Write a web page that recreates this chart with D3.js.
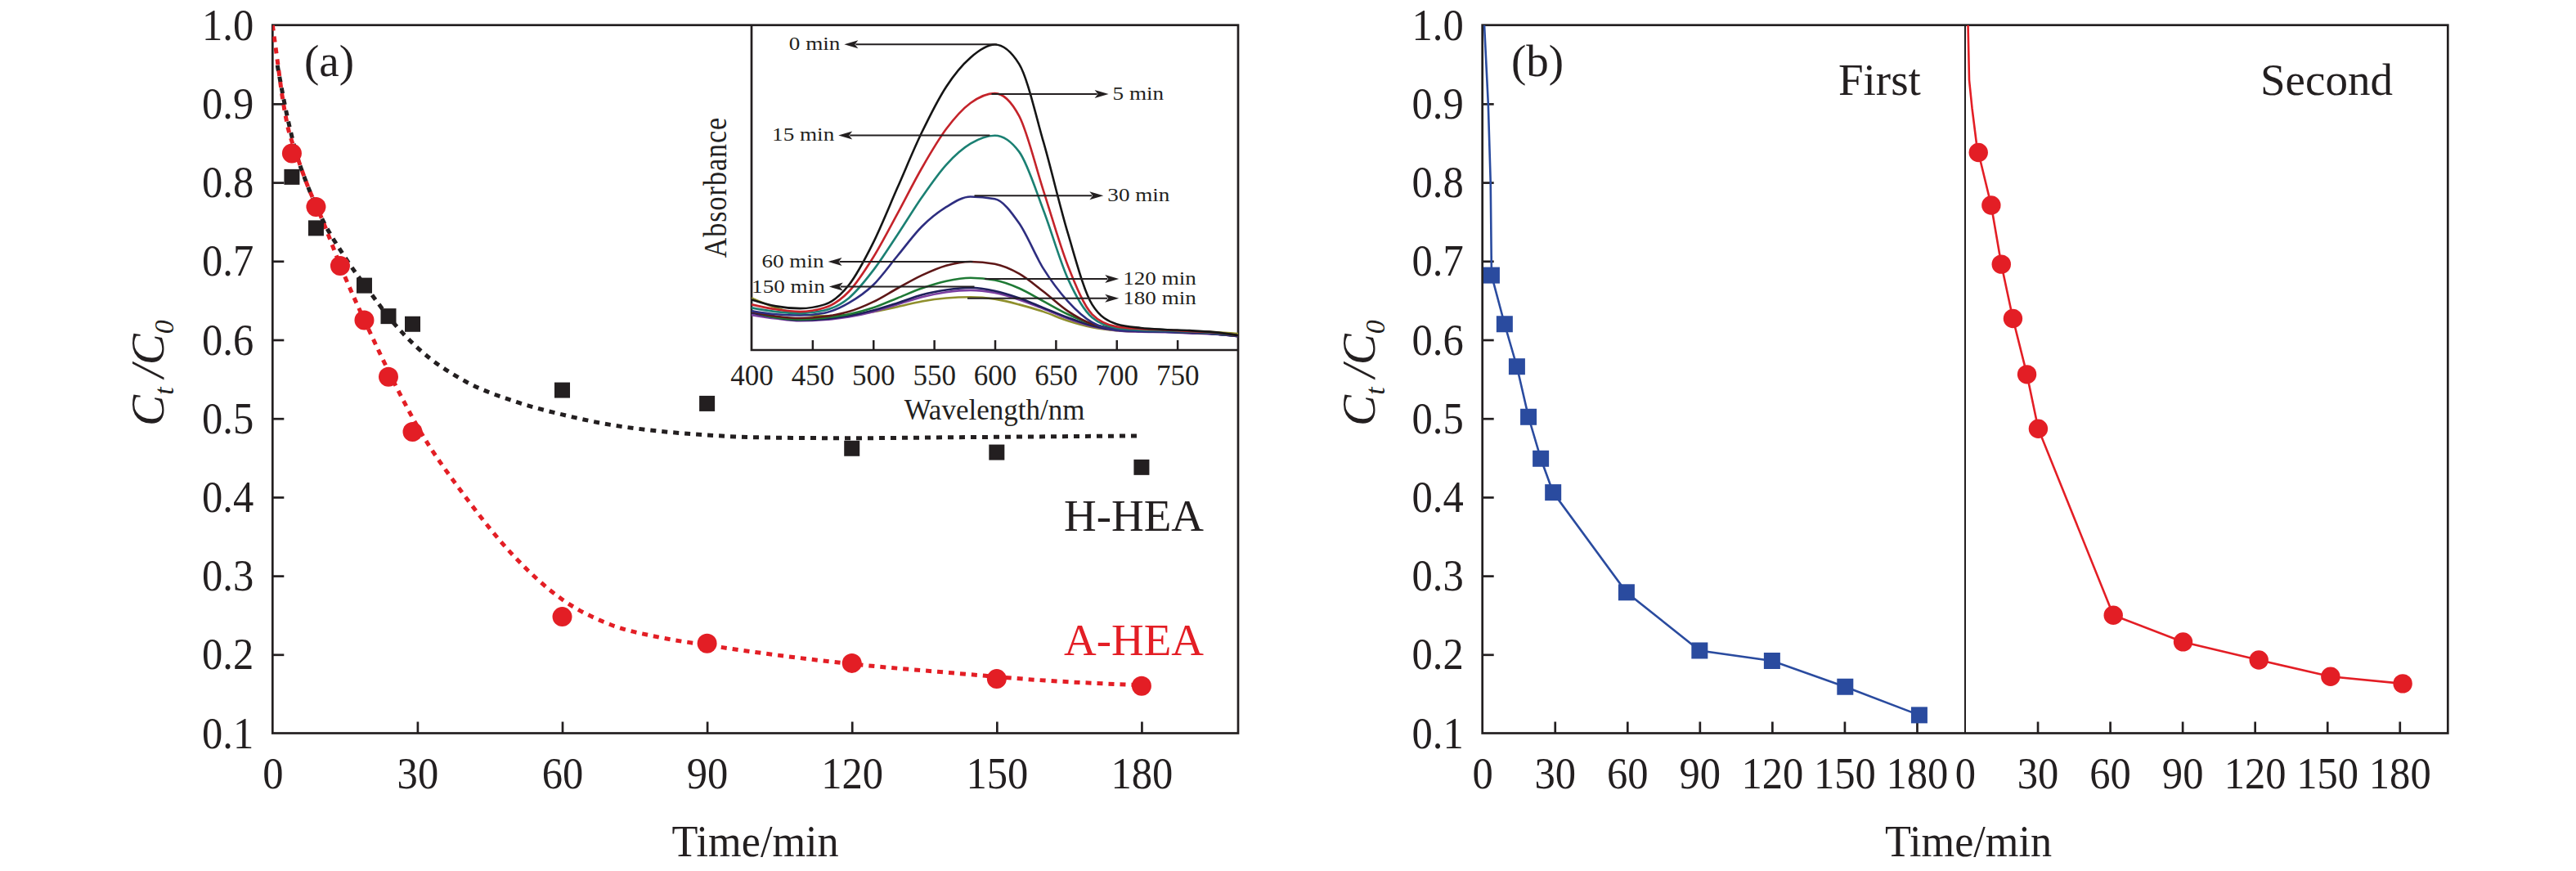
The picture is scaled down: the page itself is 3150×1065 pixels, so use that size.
<!DOCTYPE html>
<html><head><meta charset="utf-8">
<script src="https://cdn.jsdelivr.net/npm/d3@7/dist/d3.min.js"></script>
<style>
body{margin:0;background:#fff}
svg{display:block}
text{font-family:"Liberation Serif","Times New Roman",serif;fill:#231f20}
</style>
</head><body>
<svg id="c" width="3150" height="1065"></svg>
<script>
// ---------------- DATA ----------------
// Panel (a): photocatalytic degradation, C_t/C_0 vs time (min)
const timesHHEA  = [4, 9, 19, 24, 29, 60, 90, 120, 150, 180];
const valuesHHEA = [0.807, 0.742, 0.669, 0.630, 0.620, 0.536, 0.519, 0.462, 0.457, 0.438];
const timesAHEA  = [4, 9, 14, 19, 24, 29, 60, 90, 120, 150, 180];
const valuesAHEA = [0.837, 0.769, 0.694, 0.625, 0.553, 0.483, 0.248, 0.214, 0.189, 0.169, 0.160];
// fitted (dotted) curves
const fitTimesH  = [1, 3, 5, 7, 10, 15, 20, 25, 30, 40, 50, 60, 70, 80, 90, 100, 120, 140, 160, 180];
const fitValuesH = [0.949, 0.885, 0.835, 0.800, 0.757, 0.705, 0.662, 0.622, 0.590, 0.547, 0.522, 0.505, 0.492, 0.484, 0.479, 0.476, 0.475, 0.476, 0.477, 0.478];
const fitTimesA  = [0, 1, 2, 3, 5, 7, 10, 15, 20, 25, 30, 40, 50, 60, 70, 80, 90, 100, 120, 140, 160, 180];
const fitValuesA = [1.0, 0.955, 0.91, 0.875, 0.835, 0.80, 0.757, 0.68, 0.612, 0.548, 0.49, 0.40, 0.325, 0.27, 0.238, 0.222, 0.212, 0.203, 0.188, 0.177, 0.167, 0.161];
const seriesLabels = ["H-HEA", "A-HEA"];

// Panel (b): cycling test
const leadTimesFirst  = [0.8, 2.4, 3.4];
const leadValuesFirst = [1.0, 0.9, 0.8];
const timesFirst  = [3.8, 9.2, 14.3, 19.1, 24.2, 29.3, 59.7, 90, 120, 150.3, 181];
const valuesFirst = [0.682, 0.620, 0.566, 0.502, 0.449, 0.406, 0.279, 0.205, 0.192, 0.159, 0.123];
const leadTimesSecond  = [1.2, 1.7, 2.9, 4.7];
const leadValuesSecond = [1.0, 0.93, 0.894, 0.85];
const timesSecond  = [5.5, 10.8, 15, 19.8, 25.6, 30.3, 61.4, 90.3, 121.7, 151.4, 181.3];
const valuesSecond = [0.838, 0.771, 0.696, 0.627, 0.556, 0.487, 0.250, 0.216, 0.193, 0.172, 0.163];
const runLabels = ["First", "Second"];

// Axis ticks
const timeTicks = [0, 30, 60, 90, 120, 150, 180];
const ratioTicks = [0.1, 0.2, 0.3, 0.4, 0.5, 0.6, 0.7, 0.8, 0.9, 1.0];
const wlTicks = [400, 450, 500, 550, 600, 650, 700, 750];

// Inset: UV-vis absorbance spectra (relative absorbance)
const wavelengths = [400, 420, 440, 460, 480, 500, 520, 540, 560, 580, 600, 620, 640, 660, 680, 700, 720, 740, 760, 780, 800];
const spec0   = [0.155, 0.135, 0.128, 0.140, 0.200, 0.330, 0.500, 0.670, 0.810, 0.900, 0.940, 0.880, 0.640, 0.360, 0.140, 0.080, 0.068, 0.063, 0.060, 0.055, 0.045];
const spec5   = [0.140, 0.125, 0.118, 0.130, 0.180, 0.285, 0.420, 0.560, 0.680, 0.760, 0.790, 0.720, 0.490, 0.260, 0.110, 0.072, 0.065, 0.062, 0.058, 0.054, 0.045];
const spec15  = [0.130, 0.118, 0.113, 0.122, 0.160, 0.245, 0.355, 0.470, 0.570, 0.635, 0.660, 0.610, 0.430, 0.220, 0.100, 0.068, 0.062, 0.060, 0.057, 0.053, 0.045];
const spec30  = [0.120, 0.110, 0.107, 0.114, 0.145, 0.200, 0.290, 0.380, 0.440, 0.472, 0.465, 0.390, 0.250, 0.150, 0.085, 0.062, 0.058, 0.056, 0.054, 0.050, 0.043];
const spec60  = [0.118, 0.104, 0.098, 0.103, 0.118, 0.148, 0.190, 0.230, 0.260, 0.272, 0.265, 0.235, 0.180, 0.120, 0.080, 0.065, 0.060, 0.057, 0.054, 0.050, 0.043];
const spec90  = [0.108, 0.097, 0.090, 0.093, 0.102, 0.118, 0.140, 0.163, 0.178, 0.184, 0.176, 0.155, 0.127, 0.097, 0.073, 0.060, 0.056, 0.055, 0.052, 0.049, 0.042];
const spec120 = [0.120, 0.100, 0.094, 0.099, 0.110, 0.130, 0.160, 0.190, 0.212, 0.222, 0.215, 0.190, 0.150, 0.110, 0.080, 0.065, 0.060, 0.057, 0.054, 0.050, 0.043];
const spec150 = [0.115, 0.100, 0.092, 0.095, 0.105, 0.122, 0.145, 0.170, 0.185, 0.192, 0.182, 0.160, 0.130, 0.100, 0.075, 0.062, 0.058, 0.056, 0.053, 0.050, 0.042];
const spec180 = [0.160, 0.130, 0.110, 0.105, 0.108, 0.118, 0.133, 0.150, 0.160, 0.163, 0.157, 0.140, 0.118, 0.090, 0.070, 0.060, 0.057, 0.060, 0.057, 0.055, 0.050];
const spectra = [spec180, spec90, spec150, spec120, spec60, spec30, spec15, spec5, spec0];
const spectraColors = ["#8f8f2c", "#7b3fa0", "#1f1f5c", "#1f7a35", "#5e1717", "#2e2e80", "#1b8073", "#c4232a", "#151515"];

// Inset annotations (arrow from peak to label)
const annLabels = ["0 min", "5 min", "15 min", "30 min", "60 min", "120 min", "150 min", "180 min"];
const annFromNm = [601.6, 597.3, 595.9, 583.2, 581.8, 591.7, 583.2, 577.5];
const annToNm   = [476.2, 693.5, 471.4, 689.3, 462.9, 702.0, 463.7, 702.0];
const annAbs    = [0.941, 0.788, 0.661, 0.475, 0.272, 0.219, 0.195, 0.159];

// ---------------- DRAWING ----------------
const INK = "#231f20", RED = "#e31e25", BLUE = "#2a4b9f";
const svg = d3.select("#c");
const yTop = 30.7, yBot = 896.5;
const y = d3.scaleLinear().domain([0.1, 1.0]).range([yBot, yTop]);
const xa = d3.scaleLinear().domain([0, 200]).range([333.3, 1514]);
const xb1 = d3.scaleLinear().domain([0, 200]).range([1812.7, 2403]);
const xb2 = d3.scaleLinear().domain([0, 200]).range([2403, 2993.3]);
const xi = d3.scaleLinear().domain([400, 800]).range([919, 1514]);
const yi = d3.scaleLinear().domain([0, 1]).range([428, 30.7]);

const defs = svg.append("defs");
defs.append("clipPath").attr("id", "clipA").append("rect")
  .attr("x", xa(0)).attr("y", yTop).attr("width", xa(200) - xa(0)).attr("height", yBot - yTop);
defs.append("clipPath").attr("id", "clipI").append("rect")
  .attr("x", xi(400)).attr("y", yi(1)).attr("width", xi(800) - xi(400)).attr("height", yi(0) - yi(1));
defs.append("clipPath").attr("id", "clipB1").append("rect")
  .attr("x", xb1(0)).attr("y", yTop).attr("width", xb1(200) - xb1(0)).attr("height", yBot - yTop);
defs.append("clipPath").attr("id", "clipB2").append("rect")
  .attr("x", xb2(0)).attr("y", yTop).attr("width", xb2(200) - xb2(0)).attr("height", yBot - yTop);

function xAxis(scale, fs) {
  const g = svg.append("g").attr("transform", `translate(0,${yBot})`)
    .call(d3.axisBottom(scale).tickValues(timeTicks).tickSize(-14).tickPadding(28).tickFormat(d3.format("d")));
  g.attr("font-family", null).attr("font-size", null);
  g.select(".domain").remove();
  g.selectAll(".tick").filter(d => d === 0).select("line").remove();
  g.selectAll("line").attr("stroke", INK).attr("stroke-width", 2.7);
  g.selectAll("text").attr("fill", INK).style("font-size", fs + "px").attr("transform", "scale(0.92,1)");
}
function yAxis(x0) {
  const g = svg.append("g").attr("transform", `translate(${x0},0)`)
    .call(d3.axisLeft(y).tickValues(ratioTicks).tickSize(-14).tickPadding(23).tickFormat(d3.format(".1f")));
  g.attr("font-family", null).attr("font-size", null);
  g.select(".domain").remove();
  g.selectAll(".tick").filter(d => d < 0.15 || d > 0.95).select("line").remove();
  g.selectAll("line").attr("stroke", INK).attr("stroke-width", 2.7);
  g.selectAll("text").attr("fill", INK).style("font-size", "55px")
    .attr("x", -23 / 0.92).attr("transform", "scale(0.92,1)");
}
function yLabel(cx, cy) {
  const t = svg.append("text").attr("transform", `translate(${cx},${cy}) rotate(-90)`)
    .attr("text-anchor", "middle").style("font-size", "57px").style("font-style", "italic");
  t.append("tspan").text("C");
  t.append("tspan").text("t").attr("dy", 12).style("font-size", "34px");
  t.append("tspan").text("\u2009/").attr("dy", -12);
  t.append("tspan").text("C");
  t.append("tspan").text("0").attr("dy", 12).style("font-size", "34px");
}
function xLabel(cx) {
  svg.append("text").attr("transform", `translate(${cx},1047) scale(0.95,1)`)
    .attr("text-anchor", "middle").style("font-size", "55px").text("Time/min");
}

// ---- Panel (a) ----
svg.append("rect").attr("x", xa(0)).attr("y", yTop).attr("width", xa(200) - xa(0)).attr("height", yBot - yTop)
  .attr("fill", "none").attr("stroke", INK).attr("stroke-width", 2.7);
xAxis(xa, 55);
yAxis(xa(0));
yLabel(200, 456);
xLabel(923.6);
svg.append("text").attr("x", 372).attr("y", 93).style("font-size", "55px").text("(a)");

// inset
const ins = svg.append("g");
ins.append("path").attr("d", `M${xi(400)},${yi(1)}V${yi(0)}H${xi(800)}`)
  .attr("fill", "none").attr("stroke", INK).attr("stroke-width", 2.7);
const ixg = ins.append("g").attr("transform", `translate(0,${yi(0)})`)
  .call(d3.axisBottom(xi).tickValues(wlTicks).tickSize(-12).tickPadding(18).tickFormat(d3.format("d")));
ixg.attr("font-family", null).attr("font-size", null);
ixg.select(".domain").remove();
ixg.selectAll(".tick").filter(d => d === 400).select("line").remove();
ixg.selectAll("line").attr("stroke", INK).attr("stroke-width", 2.5);
ixg.selectAll("text").attr("fill", INK).style("font-size", "35px");
ins.append("text").attr("x", 1216).attr("y", 513).attr("text-anchor", "middle").style("font-size", "35px").text("Wavelength/nm");
ins.append("text").attr("transform", `translate(888,229) scale(1.2,1) rotate(-90)`)
  .attr("text-anchor", "middle").style("font-size", "34px").style("letter-spacing", "1px").text("Absorbance");

const specLine = d3.line().x((d, i) => xi(wavelengths[i])).y(d => yi(d)).curve(d3.curveMonotoneX);
const specG = ins.append("g").attr("clip-path", "url(#clipI)");
spectra.forEach((s, k) => {
  specG.append("path").attr("d", specLine(s)).attr("fill", "none")
    .attr("stroke", spectraColors[k]).attr("stroke-width", 2.6).attr("stroke-linejoin", "round");
});
annLabels.forEach((lab, k) => {
  const x1 = xi(annFromNm[k]), x2 = xi(annToNm[k]), yy = yi(annAbs[k]);
  const dir = x2 < x1 ? -1 : 1;
  ins.append("line").attr("x1", x1).attr("x2", x2 - dir * 14).attr("y1", yy).attr("y2", yy)
    .attr("stroke", INK).attr("stroke-width", 2);
  ins.append("path").attr("d", `M${x2},${yy}L${x2 - dir * 17},${yy - 5}L${x2 - dir * 13},${yy}L${x2 - dir * 17},${yy + 5}Z`)
    .attr("fill", INK);
  const tx = x2 + dir * 5;
  ins.append("text").attr("transform", `translate(${tx},${yy + 7}) scale(1.18,1)`)
    .attr("text-anchor", dir < 0 ? "end" : "start").style("font-size", "23px").text(lab);
});

// fitted curves
const gA = svg.append("g").attr("clip-path", "url(#clipA)");
const lineA = d3.line().x(d => xa(d[0])).y(d => y(d[1])).curve(d3.curveMonotoneX);
gA.append("path").attr("d", lineA(fitTimesH.map((t, i) => [t, fitValuesH[i]])))
  .attr("fill", "none").attr("stroke", INK).attr("stroke-width", 5).attr("stroke-dasharray", "7,7");
gA.append("path").attr("d", lineA(fitTimesA.map((t, i) => [t, fitValuesA[i]])))
  .attr("fill", "none").attr("stroke", RED).attr("stroke-width", 5).attr("stroke-dasharray", "7,7");
// markers
gA.selectAll("rect.h").data(timesHHEA.map((t, i) => [t, valuesHHEA[i]])).join("rect").attr("class", "h")
  .attr("x", d => xa(d[0]) - 9.5).attr("y", d => y(d[1]) - 9.5).attr("width", 19).attr("height", 19).attr("fill", INK);
gA.selectAll("circle.a").data(timesAHEA.map((t, i) => [t, valuesAHEA[i]])).join("circle").attr("class", "a")
  .attr("cx", d => xa(d[0])).attr("cy", d => y(d[1])).attr("r", 12).attr("fill", RED);
svg.append("text").attr("x", 1472).attr("y", 649).attr("text-anchor", "end").style("font-size", "55px").text(seriesLabels[0]);
svg.append("text").attr("x", 1472).attr("y", 801).attr("text-anchor", "end").style("font-size", "55px")
  .style("fill", RED).text(seriesLabels[1]);

// ---- Panel (b) ----
svg.append("rect").attr("x", xb1(0)).attr("y", yTop).attr("width", xb2(200) - xb1(0)).attr("height", yBot - yTop)
  .attr("fill", "none").attr("stroke", INK).attr("stroke-width", 2.7);
svg.append("line").attr("x1", xb2(0)).attr("x2", xb2(0)).attr("y1", yTop).attr("y2", yBot)
  .attr("stroke", INK).attr("stroke-width", 2);
xAxis(xb1, 55);
xAxis(xb2, 55);
yAxis(xb1(0));
yLabel(1681, 456);
xLabel(2407);
svg.append("text").attr("x", 1848).attr("y", 93).style("font-size", "55px").text("(b)");
svg.append("text").attr("x", 2248).attr("y", 116).style("font-size", "55px").text(runLabels[0]);
svg.append("text").attr("x", 2764).attr("y", 116).style("font-size", "55px").text(runLabels[1]);

const gB1 = svg.append("g").attr("clip-path", "url(#clipB1)");
const lineB1 = d3.line().x(d => xb1(d[0])).y(d => y(d[1]));
const firstPts = timesFirst.map((t, i) => [t, valuesFirst[i]]);
gB1.append("path").attr("d", lineB1(leadTimesFirst.map((t, i) => [t, leadValuesFirst[i]]).concat(firstPts)))
  .attr("fill", "none").attr("stroke", BLUE).attr("stroke-width", 2.6);
gB1.selectAll("rect").data(firstPts).join("rect")
  .attr("x", d => xb1(d[0]) - 10).attr("y", d => y(d[1]) - 10).attr("width", 20).attr("height", 20).attr("fill", BLUE);

const gB2 = svg.append("g").attr("clip-path", "url(#clipB2)");
const lineB2 = d3.line().x(d => xb2(d[0])).y(d => y(d[1]));
const secondPts = timesSecond.map((t, i) => [t, valuesSecond[i]]);
gB2.append("path").attr("d", lineB2(leadTimesSecond.map((t, i) => [t, leadValuesSecond[i]]).concat(secondPts)))
  .attr("fill", "none").attr("stroke", RED).attr("stroke-width", 2.6);
gB2.selectAll("circle").data(secondPts).join("circle")
  .attr("cx", d => xb2(d[0])).attr("cy", d => y(d[1])).attr("r", 11.7).attr("fill", RED);
</script>
</body></html>
